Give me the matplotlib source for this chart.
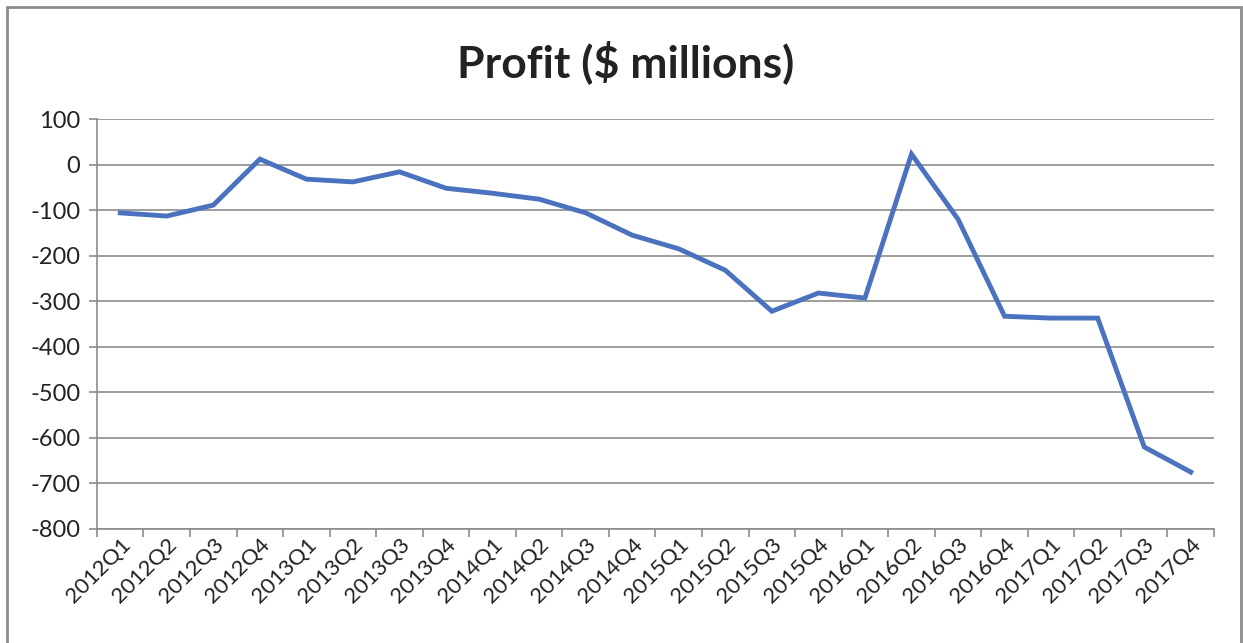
import numpy as np
import matplotlib.pyplot as plt
from matplotlib.patches import Rectangle

plt.rcParams['font.family'] = ['Lato', 'DejaVu Sans']

quarters = ['2012Q1', '2012Q2', '2012Q3', '2012Q4',
            '2013Q1', '2013Q2', '2013Q3', '2013Q4',
            '2014Q1', '2014Q2', '2014Q3', '2014Q4',
            '2015Q1', '2015Q2', '2015Q3', '2015Q4',
            '2016Q1', '2016Q2', '2016Q3', '2016Q4',
            '2017Q1', '2017Q2', '2017Q3', '2017Q4']
profit = [-106, -113, -89, 12,
          -32, -38, -16, -52,
          -63, -76, -106, -155,
          -185, -232, -322, -282,
          -293, 23, -120, -333,
          -337, -337, -620, -675]
yticks = np.arange(-800, 101, 100)

fig = plt.figure(figsize=(12.43, 6.43), dpi=100)
ax = fig.add_axes([0.078, 0.1773, 0.8987, 0.6376])

# outer chart frame
fig.patches.append(Rectangle((7/1243, -0.05), (1241-7)/1243, 1.05 - 7/643,
                             transform=fig.transFigure, fill=False,
                             edgecolor='#8c8c8c', lw=2.0))

x = np.arange(len(quarters))
ax.plot(x, profit, color='#4a72be', lw=3.5, solid_joinstyle='miter')

ax.set_xlim(-0.5, len(quarters) - 0.5)
ax.set_ylim(-800, 100)
ax.set_yticks(yticks)
ax.set_yticklabels([str(v) for v in yticks], fontsize=17, color='#222222')
ax.yaxis.grid(True, color='#8c8c8c', lw=1.2)
ax.set_axisbelow(True)

ax.set_xticks(x)
ax.set_xticklabels(quarters, rotation=45, ha='right', rotation_mode='anchor',
                   fontsize=16, color='#222222')
ax.tick_params(axis='x', length=0, pad=4)
ax.set_xticks(np.arange(-0.5, len(quarters)), minor=True)
ax.tick_params(axis='x', which='minor', length=6, color='#8c8c8c', width=1.2)
ax.tick_params(axis='y', length=6, color='#8c8c8c', width=1.2, pad=6)

for s in ['top', 'right']:
    ax.spines[s].set_visible(False)
for s in ['left', 'bottom']:
    ax.spines[s].set_color('#8c8c8c')
    ax.spines[s].set_linewidth(1.2)

fig.text(0.503, 0.903, 'Profit ($ millions)', ha='center', va='center',
         fontsize=32, fontweight='bold', color='#222222')

fig.savefig('out.png', dpi=100)
